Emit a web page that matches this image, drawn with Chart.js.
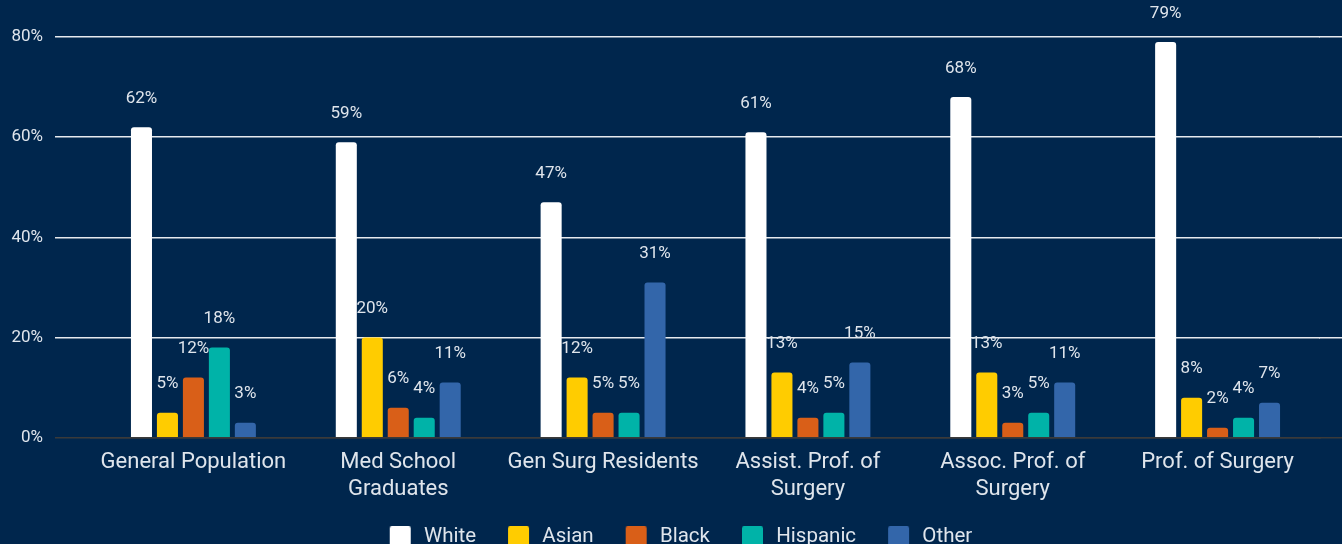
<!DOCTYPE html>
<html>
<head>
<meta charset="utf-8">
<script src="https://cdn.jsdelivr.net/npm/chart.js@4.4.1/dist/chart.umd.min.js"></script>
<style>
  html, body { margin: 0; padding: 0; background: #00264d; overflow: hidden; }
  #wrap { position: relative; width: 1342px; height: 557px; }
</style>
</head>
<body>
<div id="wrap"><canvas id="chart"></canvas></div>
<script>
const categories = [
  'General Population',
  ['Med School', 'Graduates'],
  'Gen Surg Residents',
  ['Assist. Prof. of', 'Surgery'],
  ['Assoc. Prof. of', 'Surgery'],
  'Prof. of Surgery'
];
const seriesNames = ['White', 'Asian', 'Black', 'Hispanic', 'Other'];
const white    = [62, 59, 47, 61, 68, 79];
const asian    = [5, 20, 12, 13, 13, 8];
const black    = [12, 6, 5, 4, 3, 2];
const hispanic = [18, 4, 5, 5, 5, 4];
const other    = [3, 11, 31, 15, 11, 7];
const yTicks = [0, 20, 40, 60, 80];

const colors = ['#ffffff', '#ffcc00', '#d95f18', '#00b3a8', '#3366aa'];
const TEXT = '#dfe5ec';
const FONT = 'Roboto';
const GRID = '#e6e9ee';
const BASE = '#3a3a3a';

// 범례 박스: 앞쪽 20px 여백 + 21px 사각형 + 3px 여백
function legendBox(color) {
  const c = document.createElement('canvas');
  c.width = 44;
  c.height = 21;
  const g = c.getContext('2d');
  g.fillStyle = color;
  g.beginPath();
  g.roundRect(20, 0, 21, 21, 2);
  g.fill();
  return c;
}

// 막대 위 값 라벨
const valueLabels = {
  id: 'valueLabels',
  afterDatasetsDraw(chart) {
    const ctx = chart.ctx;
    ctx.save();
    ctx.font = '17px ' + FONT;
    ctx.fillStyle = TEXT;
    ctx.textAlign = 'center';
    ctx.textBaseline = 'middle';
    chart.data.datasets.forEach((ds, i) => {
      chart.getDatasetMeta(i).data.forEach((bar, j) => {
        ctx.fillText(ds.data[j] + '%', bar.x, bar.y - 28.5);
      });
    });
    ctx.restore();
  }
};

// 그리드 선을 캔버스 오른쪽 끝까지 연장 (Chart.js와 같은 픽셀 정렬)
const gridExtend = {
  id: 'gridExtend',
  beforeDatasetsDraw(chart) {
    const ctx = chart.ctx;
    const y = chart.scales.y;
    const lw = 1.5;
    ctx.save();
    ctx.lineWidth = lw;
    yTicks.forEach(v => {
      const raw = y.getPixelForValue(v);
      const py = Math.round(raw - lw / 2) + lw / 2;
      ctx.strokeStyle = v === 0 ? BASE : GRID;
      ctx.beginPath();
      ctx.moveTo(chart.chartArea.right - 1, py);
      ctx.lineTo(chart.width, py);
      ctx.stroke();
    });
    ctx.restore();
  }
};

const series = [white, asian, black, hispanic, other];

new Chart(document.getElementById('chart'), {
  type: 'bar',
  data: {
    labels: categories,
    datasets: series.map((data, i) => ({
      label: seriesNames[i],
      data: data,
      backgroundColor: colors[i],
      borderRadius: 3,
      borderSkipped: 'bottom',
      categoryPercentage: 0.634,
      barPercentage: 0.81
    }))
  },
  options: {
    responsive: true,
    maintainAspectRatio: false,
    animation: false,
    layout: { padding: { top: 37, right: 0, left: 0, bottom: 0 } },
    scales: {
      x: {
        grid: { display: false, drawTicks: false },
        border: { color: BASE, width: 1.5 },
        ticks: {
          color: TEXT,
          font: { family: FONT, size: 22 },
          padding: 12,
          maxRotation: 0,
          autoSkip: false
        }
      },
      y: {
        min: 0,
        max: 80,
        afterBuildTicks(scale) { scale.ticks = yTicks.map(v => ({ value: v })); },
        afterFit(scale) { scale.width = 91; },
        grid: {
          color: ctx => ctx.tick && ctx.tick.value === 0 ? BASE : GRID,
          lineWidth: 1.5,
          tickLength: 36
        },
        border: { display: false },
        ticks: {
          color: TEXT,
          font: { family: FONT, size: 17 },
          padding: 12,
          callback: v => v + '%'
        }
      },
      // 오른쪽 여백용 빈 축
      y2: {
        position: 'right',
        min: 0,
        max: 80,
        afterFit(scale) { scale.width = 22; },
        grid: { display: false, drawTicks: false },
        border: { display: false },
        ticks: { display: false }
      }
    },
    plugins: {
      legend: {
        position: 'bottom',
        labels: {
          color: TEXT,
          font: { family: FONT, size: 20.5 },
          usePointStyle: true,
          pointStyleWidth: 44,
          boxHeight: 21,
          padding: 12,
          generateLabels(chart) {
            const items = Chart.defaults.plugins.legend.labels.generateLabels(chart);
            items.forEach(it => { it.pointStyle = legendBox(colors[it.datasetIndex]); });
            return items;
          }
        }
      },
      tooltip: { enabled: false }
    }
  },
  plugins: [gridExtend, valueLabels]
});
</script>
</body>
</html>
